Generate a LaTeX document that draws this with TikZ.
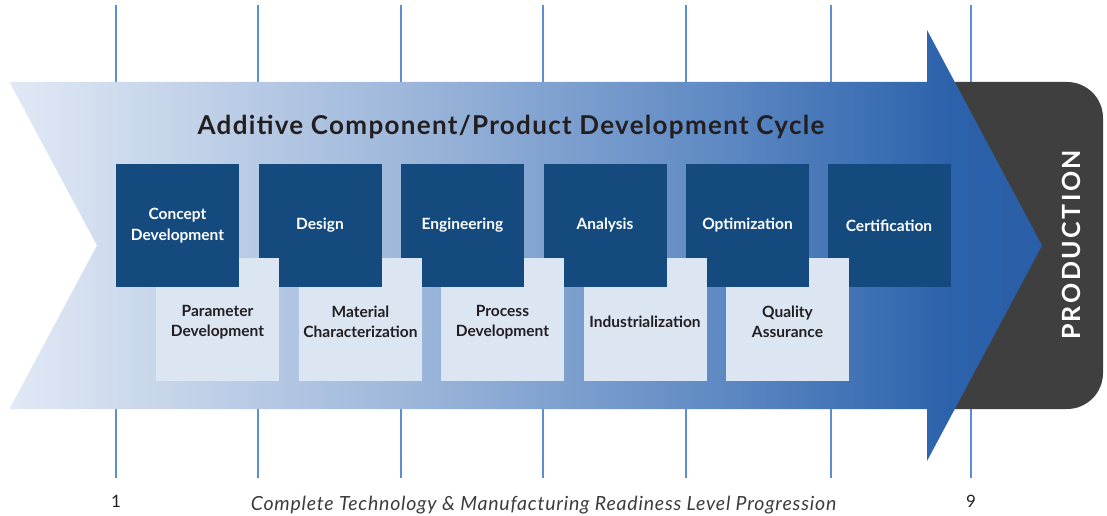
\documentclass[tikz,border=0pt]{standalone}
\usepackage{fontspec}
\setmainfont{Lato}
\definecolor{sA}{HTML}{E1E9F5}
\definecolor{sB}{HTML}{9FB8DB}
\definecolor{sC}{HTML}{5E89C3}
\definecolor{sD}{HTML}{2C62AB}
\definecolor{sE}{HTML}{2A5FA8}
\definecolor{darkbox}{HTML}{154A7E}
\definecolor{lightbox}{HTML}{DCE5F2}
\definecolor{prodgray}{HTML}{3F3F3F}
\definecolor{inkdark}{HTML}{231F20}
\definecolor{tickblue}{HTML}{5B8ED3}
\definecolor{captiongray}{HTML}{3C3C3C}
\pgfdeclarehorizontalshading{arrowshade}{440bp}{color(0bp)=(sA); color(390bp)=(sB); color(710bp)=(sC); color(940bp)=(sD); color(1040bp)=(sE)}
\tikzset{
  tick/.style={draw=tickblue, line width=1.3pt},
  darkstage/.style={fill=darkbox, minimum width=123pt, minimum height=123pt, inner sep=0pt, outer sep=0pt,
    text=white, align=center, font=\fontsize{15.5}{21}\selectfont\bfseries},
  lightstage/.style={fill=lightbox, minimum width=123pt, minimum height=123pt, inner sep=0pt, outer sep=0pt},
  lighttext/.style={inner sep=0pt, text=inkdark, align=center, font=\fontsize{15.5}{20.5}\selectfont\bfseries},
}
\begin{document}
\begin{tikzpicture}[x=1pt,y=-1pt]
\useasboundingbox (0,0) rectangle (1107,516);
% tick lines
\foreach \t/\xx in {1/116,2/258,3/401,4/543,5/686,6/831,7/971}{
  \coordinate (ta\t) at (\xx,5);
  \coordinate (tb\t) at (\xx,478);
  \draw[tick] (ta\t) -- (tb\t);
}
% production box
\fill[prodgray] (935,82) -- (1067,82) arc[start angle=90,end angle=0,radius=36pt]
  -- (1103,373) arc[start angle=0,end angle=-90,radius=36pt] -- (935,409) -- cycle;
\node[text=white, rotate=90, font=\fontsize{25}{25}\selectfont\bfseries\addfontfeature{LetterSpace=10}] (prod) at (1071,245) {PRODUCTION};
% arrow
\begin{scope}
\clip (9.5,82) -- (927,82) -- (927,30) -- (1042,245.5) -- (927,461) -- (927,409) -- (9.5,409) -- (97,245.5) -- cycle;
\node[inner sep=0pt, outer sep=0pt, anchor=south west] at (8,465) {\pgfuseshading{arrowshade}};
\end{scope}
% title
\node[anchor=base, text=inkdark, font=\fontsize{26}{26}\selectfont\bfseries\addfontfeature{LetterSpace=5}, inner sep=0pt] (title) at (511,135) {Additive Component/Product Development Cycle};
% stage boxes (drawn right to left)
\node[darkstage] (d6) at (889,225.5) {Certification};
\node[lightstage] (l5) at (787.5,319.5) {};
\node[lighttext] at ([yshift=-2.5pt]l5.center) {Quality\\Assurance};
\node[darkstage] (d5) at (747.5,225.5) {Optimization};
\node[lightstage] (l4) at (645,319.5) {};
\node[lighttext] at ([yshift=-2.5pt]l4.center) {Industrialization};
\node[darkstage] (d4) at (605,225.5) {Analysis};
\node[lightstage] (l3) at (502.5,319.5) {};
\node[lighttext] at ([yshift=-2.5pt]l3.center) {Process\\Development};
\node[darkstage] (d3) at (462.5,225.5) {Engineering};
\node[lightstage] (l2) at (360.5,319.5) {};
\node[lighttext] at ([yshift=-2.5pt]l2.center) {Material\\Characterization};
\node[darkstage] (d2) at (320,225.5) {Design};
\node[lightstage] (l1) at (217.5,319.5) {};
\node[lighttext] at ([yshift=-2.5pt]l1.center) {Parameter\\Development};
\node[darkstage] (d1) at (177.5,225.5) {Concept\\Development};
% bottom labels
\node[anchor=base, text=inkdark, font=\fontsize{17}{17}\selectfont, inner sep=0pt] (n1) at (116,507) {1};
\node[anchor=base, text=inkdark, font=\fontsize{17}{17}\selectfont, inner sep=0pt] (n9) at (971,507) {9};
\node[anchor=base, text=captiongray, font=\fontsize{19.5}{19.5}\selectfont\itshape\addfontfeature{LetterSpace=4}, inner sep=0pt] (caption) at (543.5,510) {Complete Technology \& Manufacturing Readiness Level Progression};
\end{tikzpicture}
\end{document}
